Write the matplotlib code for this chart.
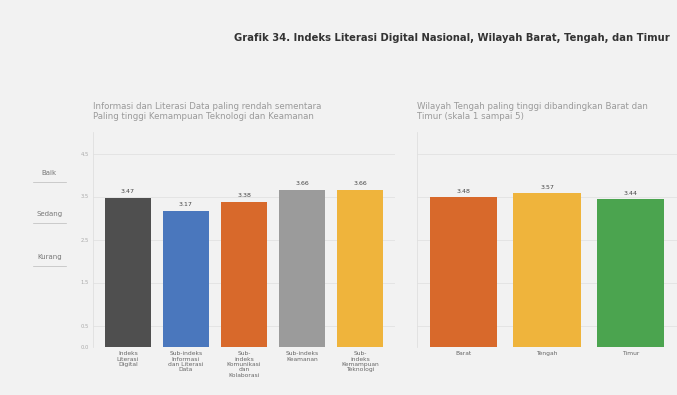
import matplotlib.pyplot as plt

# data
sub_labels = ["Indeks\nLiterasi\nDigital", "Sub-indeks\nInformasi\ndan Literasi\nData",
              "Sub-\nindeks\nKomunikasi\ndan\nKolaborasi", "Sub-indeks\nKeamanan",
              "Sub-\nindeks\nKemampuan\nTeknologi"]
sub_values = [3.47, 3.17, 3.38, 3.66, 3.66]
sub_colors = ["#4f4f4f", "#4a77bd", "#d8692b", "#9b9b9b", "#efb43c"]

region_labels = ["Barat", "Tengah", "Timur"]
region_values = [3.48, 3.57, 3.44]
region_colors = ["#d8692b", "#efb43c", "#4ba44f"]

yticks = [0, 0.5, 1.5, 2.5, 3.5, 4.5]
level_labels = ["Baik", "Sedang", "Kurang"]
level_pos = [4.05, 3.1, 2.1]

bg = "#f2f2f2"
fig = plt.figure(figsize=(6.77, 3.95), dpi=100, facecolor=bg)

fig.text(0.99, 0.905, "Grafik 34. Indeks Literasi Digital Nasional, Wilayah Barat, Tengah, dan Timur",
         ha="right", va="center", fontsize=7.2, fontweight="bold", color="#333333")


def draw_panel(ax, labels, values, colors, subtitle):
    ax.set_facecolor(bg)
    x = range(len(values))
    bars = ax.bar(x, values, width=0.8, color=colors, zorder=3)
    for b, v in zip(bars, values):
        ax.text(b.get_x() + b.get_width() / 2, v + 0.08, f"{v:.2f}", ha="center", va="bottom",
                fontsize=4.5, color="#444444")
    ax.set_xticks(list(x))
    ax.set_xticklabels(labels, fontsize=4.3, color="#666666", linespacing=1.1)
    ax.set_ylim(0, 5)
    ax.set_yticks(yticks)
    ax.grid(axis="y", color="#e2e2e2", linewidth=0.6, zorder=0)
    ax.tick_params(axis="both", length=0, pad=3)
    for s in ["top", "right", "bottom"]:
        ax.spines[s].set_visible(False)
    ax.spines["left"].set_color("#e0e0e0")
    ax.spines["left"].set_linewidth(0.6)
    ax.text(0.0, 1.05, subtitle, transform=ax.transAxes, ha="left", va="bottom",
            fontsize=6.2, color="#9a9a9a", linespacing=1.2)


ax1 = fig.add_axes([93 / 677, 48 / 395, 302 / 677, 215 / 395])
draw_panel(ax1, sub_labels, sub_values, sub_colors,
           "Informasi dan Literasi Data paling rendah sementara\nPaling tinggi Kemampuan Teknologi dan Keamanan")
ax1.set_xlim(-0.6, 4.6)
ax1.set_yticklabels([f"{t:.1f}" for t in yticks], fontsize=3.8, color="#aaaaaa")

for lab, pos in zip(level_labels, level_pos):
    ax1.text(-0.145, pos, lab, transform=ax1.get_yaxis_transform(), ha="center", va="center",
             fontsize=5, color="#777777")
    ax1.plot([-0.2, -0.09], [pos - 0.22, pos - 0.22], transform=ax1.get_yaxis_transform(),
             color="#bbbbbb", linewidth=0.5, clip_on=False)

ax2 = fig.add_axes([417 / 677, 48 / 395, 260 / 677, 215 / 395])
draw_panel(ax2, region_labels, region_values, region_colors,
           "Wilayah Tengah paling tinggi dibandingkan Barat dan\nTimur (skala 1 sampai 5)")
ax2.set_xlim(-0.55, 2.55)
ax2.set_yticklabels([])

fig.savefig("out.png", dpi=100, facecolor=bg)
